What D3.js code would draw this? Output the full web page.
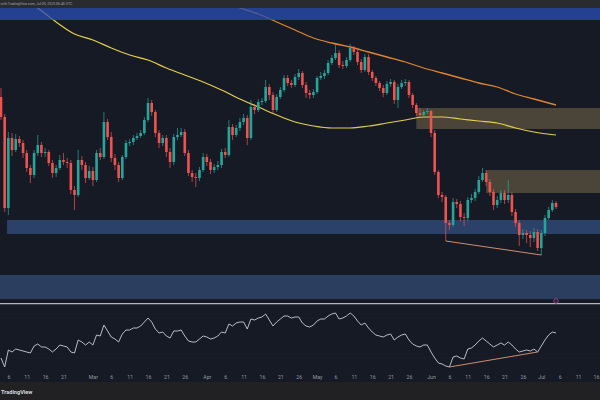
<!DOCTYPE html>
<html><head><meta charset="utf-8">
<script src="https://cdn.jsdelivr.net/npm/d3@7"></script>
<style>html,body{margin:0;padding:0;background:#161a25;overflow:hidden}svg{display:block}</style>
</head><body><svg id="c" width="600" height="400"></svg>
<script>
// ---------------- data ----------------
const startDate = "2025-02-04";
const open0 = 303;
const closes = [283,192,262,250,261,257,247,232,225,247,
255,247,248,237,227,232,240,238,237,210,
205,240,235,222,229,220,247,243,278,263,
242,235,222,243,257,258,262,264,267,280,
297,288,267,257,262,248,238,263,265,268,
247,227,223,222,230,243,238,230,233,235,
248,245,273,265,272,278,282,262,293,290,
298,299,313,305,290,303,310,322,317,315,
323,327,315,307,305,308,322,324,327,337,
342,347,335,334,340,352,348,338,330,343,
328,322,317,312,307,316,318,300,313,317,
318,305,295,287,285,288,289,267,228,205,
203,177,175,198,196,183,182,200,202,208,
220,227,218,208,195,200,207,200,205,188,
177,165,167,165,162,168,152,167,182,190,
197,193];
const highs = [312,286,268,267,266,264,260,250,235,250,
265,258,252,250,240,235,245,247,242,240,
214,250,244,238,234,233,250,252,288,281,
268,246,238,245,260,261,265,267,270,283,
302,300,290,270,265,265,252,266,272,272,
271,250,230,227,233,247,246,241,236,239,
251,252,280,276,275,282,286,285,300,296,
301,302,320,316,308,306,313,325,325,320,
326,331,329,318,310,311,324,328,330,340,
345,355,350,339,343,356,354,350,341,346,
346,330,324,319,315,319,321,320,316,320,
321,320,307,297,292,290,292,290,270,230,
208,205,180,202,201,199,187,203,206,211,
224,232,230,221,211,204,210,210,220,208,
191,180,171,170,169,172,171,170,185,193,
200,199];
const lows = [280,188,185,244,248,253,242,228,217,222,
244,243,243,234,222,223,230,235,232,206,
190,203,230,217,220,214,218,240,241,260,
238,230,218,220,241,254,255,260,262,265,
278,284,263,252,254,243,232,235,260,263,
244,224,218,213,219,228,234,226,227,230,
232,242,243,260,263,269,275,255,260,286,
288,295,297,300,287,288,301,308,314,312,
313,320,312,302,301,302,306,320,321,325,
335,340,332,331,332,338,345,335,327,328,
325,319,314,309,303,305,313,296,292,311,
314,302,292,284,282,283,286,263,225,202,
198,159,170,173,192,179,174,179,197,199,
206,218,214,204,190,192,197,196,197,184,
173,154,161,157,153,158,149,145,164,180,
188,191];
const rsi = [30,21,38,36,39,38,37,36,35,42,
44,41,41,39,36,39,43,42,41,36,
35,48,46,43,46,43,53,52,63,57,
51,49,46,54,58,58,60,60,62,66,
70,66,59,55,56,52,50,57,57,58,
52,47,46,46,49,52,51,49,50,52,
56,55,64,62,65,66,66,59,69,68,
70,71,74,68,62,66,69,72,72,70,
71,71,65,62,61,63,67,69,69,72,
74,75,69,70,72,75,72,67,63,65,
60,56,53,52,51,53,54,48,51,53,
54,48,44,42,41,43,43,36,30,25,
24,22,21,31,32,30,29,39,40,43,
47,50,47,44,41,43,45,43,46,43,
39,36,37,38,37,39,36,42,48,53,
56,55];
const maFastIdx = [5,10,15,20,25,30,35,40,45,50,55,60,65,70,75,80,85,90,95,100,105,110,115,120,125,130,135,140,145,151];
const maFast    = [405,392,378,366,360,352,345,340,332,325,318,310,301,293,285,278,274,272,272,274,277,280,283,283,281,279,277,272,268,265];
const maSlowIdx = [60,65,70,75,80,85,90,95,100,105,110,115,120,125,130,135,140,145,151];
const maSlow    = [398,392,386,378,370,362,357,353,348,343,338,332,327,322,317,313,306,301,295];
// zones: start candle index (-1 = whole width), upper and lower price
const zoneStart  = [-1, 113, 132, 2, -1];
const zoneTop    = [400, 292, 230, 180, 125];
const zoneBottom = [380, 271, 207, 166, 101];
const divPrice = [121, 147];
const divRsi   = [122, 146];
const markerIdx = 151, markerPrice = 99;
const tickDates = ["2025-02-06","2025-02-11","2025-02-16","2025-02-21",
 "2025-03-01","2025-03-06","2025-03-11","2025-03-16","2025-03-21","2025-03-26",
 "2025-04-01","2025-04-06","2025-04-11","2025-04-16","2025-04-21","2025-04-26",
 "2025-05-01","2025-05-06","2025-05-11","2025-05-16","2025-05-21","2025-05-26",
 "2025-06-01","2025-06-06","2025-06-11","2025-06-16","2025-06-21","2025-06-26",
 "2025-07-01","2025-07-06","2025-07-11","2025-07-16"];
const headerText = "with TradingView.com, Jul 05, 2025 06:45 UTC";
const brandText = "TradingView";

// ---------------- drawing ----------------
const W = 600, H = 400;
const svg = d3.select("#c");
const parse = d3.utcParse("%Y-%m-%d");
const d0 = parse(startDate);
const dates = closes.map((_, i) => d3.utcDay.offset(d0, i));
const opens = closes.map((c, i) => i === 0 ? open0 : closes[i - 1]);

const x = d3.scaleUtc().domain([dates[0], dates[dates.length - 1]]).range([1, 556]);
const y = d3.scaleLinear().domain([100, 400]).range([300, 0]);
const yR = d3.scaleLinear().domain([10, 90]).range([378, 298]);

const UP = "#26a69a", DOWN = "#ef5350";
const bodyW = 2.6;

svg.append("rect").attr("width", W).attr("height", H).attr("fill", "#161a25");

const main = svg.append("g");
const zoneFill = ["rgba(41,78,180,0.75)", "#4b4439", "#4b4439", "#2b4168", "#2c3e5f"];

zoneStart.forEach((s, k) => {
  if (k === 0) return;
  const x0 = s < 0 ? 0 : x(dates[s]) - (k === 3 ? bodyW / 2 : 0);
  main.append("rect")
    .attr("x", x0).attr("width", W - x0)
    .attr("y", y(zoneTop[k])).attr("height", y(zoneBottom[k]) - y(zoneTop[k]))
    .attr("fill", zoneFill[k]);
});

const maLine = d3.line().x(d => x(dates[d[0]])).y(d => y(d[1])).curve(d3.curveMonotoneX);
main.append("path").datum(maFastIdx.map((d, i) => [d, maFast[i]]))
  .attr("d", maLine).attr("fill", "none").attr("stroke", "#e3cf4c").attr("stroke-width", 1.2);
main.append("path").datum(maSlowIdx.map((d, i) => [d, maSlow[i]]))
  .attr("d", maLine).attr("fill", "none").attr("stroke", "#e0852f").attr("stroke-width", 1.3);

const cg = main.append("g");
dates.forEach((d, i) => {
  const col = closes[i] >= opens[i] ? UP : DOWN;
  const cx = x(d);
  cg.append("line").attr("x1", cx).attr("x2", cx)
    .attr("y1", y(highs[i])).attr("y2", y(lows[i]))
    .attr("stroke", col).attr("stroke-width", 0.7);
  const top = y(Math.max(opens[i], closes[i]));
  const bot = y(Math.min(opens[i], closes[i]));
  cg.append("rect").attr("x", cx - bodyW / 2).attr("width", bodyW)
    .attr("y", top).attr("height", Math.max(0.8, bot - top)).attr("fill", col);
});

main.append("rect").attr("x", 0).attr("width", W)
  .attr("y", y(zoneTop[0])).attr("height", y(zoneBottom[0]) - y(zoneTop[0]))
  .attr("fill", zoneFill[0]);

main.append("line")
  .attr("x1", x(dates[divPrice[0]])).attr("y1", y(lows[divPrice[0]]))
  .attr("x2", x(dates[divPrice[1]])).attr("y2", y(lows[divPrice[1]]))
  .attr("stroke", "#e39a77").attr("stroke-width", 0.9);

svg.append("line").attr("x1", 0).attr("x2", W).attr("y1", 303.6).attr("y2", 303.6)
  .attr("stroke", "#b4b7c0").attr("stroke-width", 1.2);

svg.append("circle").attr("cx", x(dates[markerIdx])).attr("cy", y(markerPrice)).attr("r", 2.3)
  .attr("fill", "#2a1f3a").attr("stroke", "#a1408a").attr("stroke-width", 0.9);

const rg = svg.append("g");
[70, 30].forEach(v => rg.append("line").attr("x1", 0).attr("x2", W)
  .attr("y1", yR(v)).attr("y2", yR(v)).attr("stroke", "#232734").attr("stroke-width", 0.6)
  .attr("stroke-dasharray", "2,2"));
rg.append("path").datum(rsi)
  .attr("d", d3.line().x((d, i) => x(dates[i])).y(d => yR(d)))
  .attr("fill", "none").attr("stroke", "#c9cdd6").attr("stroke-width", 0.9);
rg.append("line")
  .attr("x1", x(dates[divRsi[0]])).attr("y1", yR(rsi[divRsi[0]]))
  .attr("x2", x(dates[divRsi[1]])).attr("y2", yR(rsi[divRsi[1]]))
  .attr("stroke", "#e39a77").attr("stroke-width", 0.9);

const fmtMonth = d3.utcFormat("%b");
const axis = d3.axisBottom(x)
  .tickValues(tickDates.map(parse))
  .tickFormat(d => d.getUTCDate() === 1 ? fmtMonth(d) : String(d.getUTCDate()))
  .tickSize(0).tickPadding(3);
const ax = svg.append("g").attr("transform", "translate(0,372)").call(axis);
ax.select(".domain").remove();
ax.selectAll("text").attr("fill", "#9599a3").attr("font-size", 5.2)
  .attr("font-family", "Roboto, 'Noto Sans', sans-serif");
// keep the last label inside the picture
ax.selectAll(".tick").filter((d, i, n) => i === n.length - 1).select("text").attr("text-anchor", "end").attr("dx", "2.5");

svg.append("rect").attr("x", 0).attr("y", 0).attr("width", W).attr("height", 8).attr("fill", "#2a2b2f");
svg.append("text").attr("x", 0.5).attr("y", 5.3).attr("text-anchor", "start")
  .attr("font-size", 3.5).attr("fill", "#a3a3a8")
  .attr("font-family", "Roboto, 'Noto Sans', sans-serif").text(headerText);

svg.append("rect").attr("x", 0).attr("y", 382).attr("width", W).attr("height", 18).attr("fill", "#212124");
svg.append("text").attr("x", 1).attr("y", 393.5).attr("text-anchor", "start")
  .attr("font-size", 5.6).attr("font-weight", "bold").attr("fill", "#d6d8de")
  .attr("font-family", "Roboto, 'Noto Sans', sans-serif").text(brandText);
</script>
</body></html>
